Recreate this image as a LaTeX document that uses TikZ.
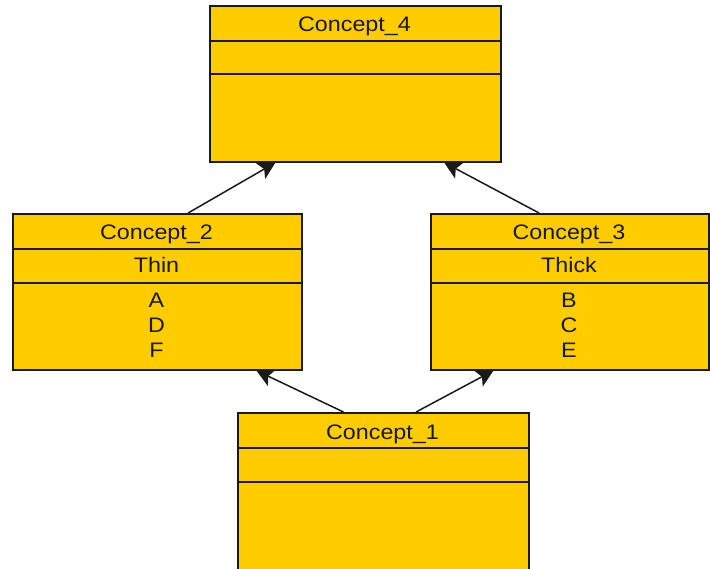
\documentclass[tikz,border=0pt]{standalone}
\usepackage{fontspec}
\setmainfont{Liberation Sans}[FakeStretch=1.11]
\usetikzlibrary{arrows.meta,calc}
\definecolor{umlfill}{HTML}{FFCC00}
\definecolor{umlline}{HTML}{1A1A1A}
\tikzset{
  classbox/.style={draw=umlline, line width=1.6pt, fill=umlfill, rectangle, inner sep=0pt, anchor=north west},
  divider/.style={draw=umlline, line width=1.4pt},
  lbl/.style={font=\fontsize{21}{21}\selectfont, text=black!90, inner sep=0pt, anchor=base},
  inherit/.style={draw=umlline, line width=1.5pt, -{Stealth[length=17pt,width=18pt,inset=4pt]}}
}
\begin{document}
\begin{tikzpicture}[x=1pt,y=-1pt]
\useasboundingbox (0,0) rectangle (710,569);
% boxes
\node[classbox, minimum width=291pt, minimum height=156pt] (c4) at (209,5) {};
\node[classbox, minimum width=289pt, minimum height=156pt] (c2) at (12,213) {};
\node[classbox, minimum width=278pt, minimum height=156pt] (c3) at (430,213) {};
\node[classbox, minimum width=291pt, minimum height=160pt] (c1) at (237,412) {};
% dividers
\draw[divider] (209,41) -- (500,41);
\draw[divider] (209,74) -- (500,74);
\draw[divider] (12,249) -- (301,249);
\draw[divider] (12,283) -- (301,283);
\draw[divider] (430,249) -- (708,249);
\draw[divider] (430,283) -- (708,283);
\draw[divider] (237,448) -- (528,448);
\draw[divider] (237,482) -- (528,482);
% labels
\node[lbl] (t4) at (354.5,32) {Concept\_4};
\node[lbl] (t2) at (156.5,240) {Concept\_2};
\node[lbl] (t2a) at (156.5,273) {Thin};
\node[lbl] (t2b) at (156.5,308) {A};
\node[lbl] (t2c) at (156.5,333) {D};
\node[lbl] (t2d) at (156.5,358) {F};
\node[lbl] (t3) at (569,240) {Concept\_3};
\node[lbl] (t3a) at (569,273) {Thick};
\node[lbl] (t3b) at (569,308) {B};
\node[lbl] (t3c) at (569,333) {C};
\node[lbl] (t3d) at (569,358) {E};
\node[lbl] (t1) at (382.5,439) {Concept\_1};
% arrows
\draw[inherit] ($(c2.north west)!0.606!(c2.north east)$) -- ($(c4.south west)!0.227!(c4.south east)$);
\draw[inherit] ($(c3.north west)!0.39!(c3.north east)$) -- ($(c4.south west)!0.804!(c4.south east)$);
\draw[inherit] ($(c1.north west)!0.364!(c1.north east)$) -- ($(c2.south west)!0.841!(c2.south east)$);
\draw[inherit] ($(c1.north west)!0.612!(c1.north east)$) -- ($(c3.south west)!0.227!(c3.south east)$);
\end{tikzpicture}
\end{document}
